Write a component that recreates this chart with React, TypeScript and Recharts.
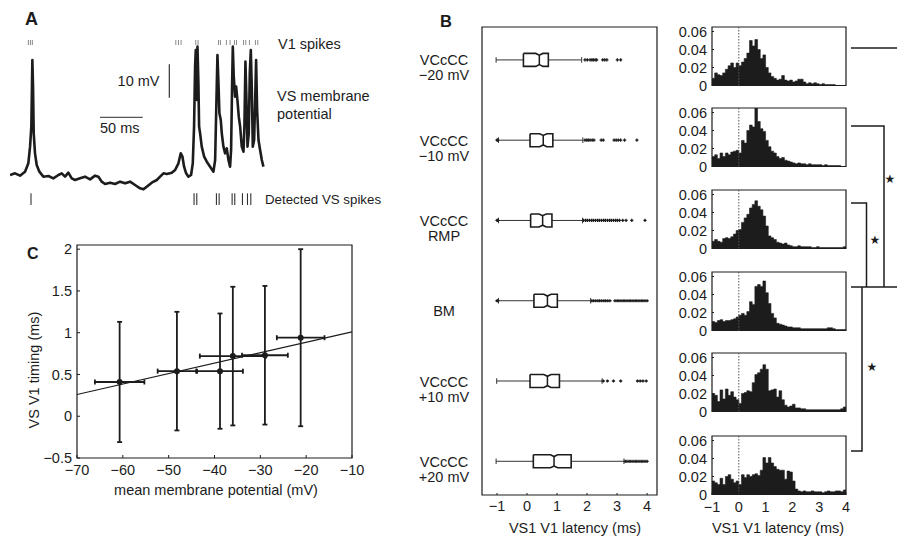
import React from 'react';
import {
  ComposedChart, Line, ScatterChart, Scatter, AreaChart, Area, XAxis, YAxis,
  ErrorBar, ReferenceLine, ReferenceArea,
} from 'recharts';

const FONT = '"Liberation Sans", Arial, Helvetica, sans-serif';
const INK = '#1c1c1c';
const TICK = { fontSize: 14.5, fill: INK };

// ---------- Panel A: VS membrane potential (ms, mV) ----------
const membraneTrace: [number, number][] = [
  [0, -50.4], [5.9, -49.9], [11.7, -50.6], [17.6, -49.4], [21.5, -46.9], [23.5, -41.9], [25.0, -35.9],
  [25.8, -22.9], [26.2, -15.9], [27.0, -23.9], [27.8, -37.9], [29.3, -43.9], [31.3, -47.4], [34.4, -49.4],
  [39.1, -50.9], [45.0, -50.7], [50.8, -51.4], [56.7, -50.4], [60.6, -49.9], [64.5, -50.9], [68.4, -49.7],
  [72.3, -51.4], [76.2, -51.9], [82.1, -51.4], [87.9, -50.9], [93.8, -51.7], [99.7, -50.6], [103.6, -50.9],
  [107.5, -52.4], [111.4, -53.1], [117.3, -52.7], [123.1, -53.1], [129.0, -52.4], [134.9, -52.9], [140.7, -52.4],
  [146.6, -53.4], [152.4, -54.4], [156.4, -54.7], [160.2, -53.9], [166.1, -52.7], [172.0, -51.9], [175.9, -50.9],
  [179.8, -49.9], [183.7, -50.1], [189.6, -49.7], [193.5, -48.9], [197.4, -46.9], [200.1, -43.9], [202.1, -44.9],
  [204.0, -47.9], [206.4, -49.9], [209.1, -50.9], [212.2, -50.4], [214.2, -46.9], [215.7, -35.9], [216.9, -17.9],
  [217.7, -12.9], [218.9, -27.9], [219.7, -11.9], [220.8, -22.9], [221.6, -35.9], [222.8, -37.9], [224.7, -41.9],
  [227.5, -44.9], [230.6, -46.4], [234.5, -47.9], [238.4, -49.4], [240.4, -45.9], [241.5, -32.9], [243.1, -14.4],
  [244.3, -22.9], [245.4, -31.9], [247.0, -33.9], [248.2, -37.9], [250.1, -41.9], [252.1, -43.9], [254.0, -42.4],
  [256.0, -45.9], [257.9, -47.9], [259.1, -42.9], [260.3, -22.9], [261.1, -11.9], [262.2, -20.9], [263.8, -26.9],
  [265.0, -23.9], [266.5, -27.9], [268.1, -32.9], [269.7, -35.9], [271.6, -41.9], [273.6, -43.4], [274.7, -35.9],
  [275.9, -16.4], [277.1, -27.9], [278.3, -41.9], [279.8, -37.9], [281.0, -19.9], [282.2, -12.9], [283.4, -24.9],
  [284.5, -41.9], [286.1, -39.9], [287.3, -27.9], [288.4, -15.9], [289.6, -30.9], [291.2, -39.9], [293.1, -42.9],
  [295.1, -45.9], [297.0, -47.9],
];
const v1SpikeTimes = [21.5, 23.9, 26.2, 194.3, 197.4, 200.5, 217.7, 220.4, 244.3, 246.6, 253.6, 257.9, 263.0, 265.4, 273.6, 276.3, 280.6, 287.6, 290.4];
const vsSpikeTimes = [24.6, 215.7, 218.9, 241.9, 245.1, 260.3, 263.4, 272.4, 278.3, 282.2];
const v1RasterMv = [-9.9, -11.4];
const vsRasterMv = [-55.9, -59.4];
const scaleBarMs = { t: [105.5, 155.5], v: -33.1 };
const scaleBarMv = { t: 186.7, v: [-17.2, -27.2] };

// ---------- Panel B: latency box plots (ms) ----------
const conditionLabels = [['VCcCC', '−20 mV'], ['VCcCC', '−10 mV'], ['VCcCC', 'RMP'], ['BM'], ['VCcCC', '+10 mV'], ['VCcCC', '+20 mV']];
const whiskerLow = [-1.03, -0.95, -0.95, -0.95, -1.01, -1.03];
const quart1 = [-0.12, 0.10, 0.12, 0.23, 0.10, 0.21];
const medians = [0.41, 0.54, 0.52, 0.68, 0.68, 0.90];
const quart3 = [0.71, 0.86, 0.83, 1.01, 1.08, 1.47];
const whiskerHigh = [1.82, 1.86, 1.85, 2.12, 2.50, 3.23];
const outliers = [
  [1.93, 2.01, 2.10, 2.16, 2.21, 2.27, 2.32, 2.52, 2.59, 2.66, 3.01, 3.12],
  [-1.0, -0.98, 1.93, 1.99, 2.04, 2.10, 2.17, 2.23, 2.47, 2.54, 2.90, 2.97, 3.04, 3.12, 3.25, 3.66],
  [-1.0, -0.98, 1.88, 1.95, 2.01, 2.08, 2.15, 2.21, 2.28, 2.35, 2.41, 2.48, 2.55, 2.61, 2.68, 2.75, 2.81, 2.88, 2.95, 3.01, 3.08, 3.19, 3.30, 3.49, 3.93],
  [-1.0, -0.98, 2.16, 2.22, 2.29, 2.36, 2.42, 2.49, 2.56, 2.62, 2.69, 2.76, 2.93, 3.0, 3.06, 3.13, 3.2, 3.26, 3.33, 3.4, 3.46, 3.53, 3.6, 3.66, 3.73, 3.8, 3.86, 3.93, 4.0],
  [2.54, 2.68, 2.88, 3.12, 3.68, 3.77, 3.86, 3.97],
  [3.27, 3.33, 3.4, 3.46, 3.53, 3.6, 3.66, 3.73, 3.8, 3.86, 3.93, 4.0],
];
const latencyTicks = [-1, 0, 1, 2, 3, 4];

// ---------- Panel B: latency histograms (probability per 0.1 ms bin, from -1 ms) ----------
const histBinStart = -1;
const histBinWidth = 0.1;
const histMinus20 = [
  0.008, 0.014, 0.012, 0.011, 0.014, 0.018, 0.022, 0.025, 0.020, 0.025,
  0.022, 0.026, 0.030, 0.036, 0.050, 0.044, 0.051, 0.040, 0.030, 0.034,
  0.020, 0.014, 0.010, 0.008, 0.006, 0.007, 0.011, 0.006, 0.005, 0.006,
  0.004, 0.005, 0.007, 0.007, 0.004, 0.002, 0.003, 0.002, 0.003, 0.002,
  0.001, 0.002, 0.001, 0.001, 0.001, 0.001, 0, 0, 0, 0,
];
const histMinus10 = [
  0.011, 0.013, 0.009, 0.015, 0.011, 0.015, 0.013, 0.016, 0.017, 0.018,
  0.015, 0.029, 0.026, 0.040, 0.046, 0.044, 0.065, 0.050, 0.042, 0.039,
  0.029, 0.022, 0.017, 0.015, 0.011, 0.009, 0.010, 0.007, 0.006, 0.005,
  0.004, 0.003, 0.004, 0.003, 0.003, 0.002, 0.003, 0.002, 0.002, 0.002,
  0.002, 0.001, 0.002, 0.001, 0.001, 0.001, 0.001, 0.001, 0, 0,
];
const histRmp = [
  0.008, 0.010, 0.008, 0.007, 0.011, 0.012, 0.011, 0.013, 0.016, 0.020,
  0.021, 0.029, 0.034, 0.038, 0.045, 0.049, 0.053, 0.047, 0.043, 0.036,
  0.025, 0.014, 0.012, 0.010, 0.007, 0.006, 0.005, 0.006, 0.004, 0.003,
  0.002, 0.002, 0.003, 0.002, 0.002, 0.002, 0.002, 0.001, 0.001, 0.002,
  0.001, 0.001, 0.001, 0.001, 0.001, 0.001, 0.001, 0.001, 0.001, 0.002,
];
const histBm = [
  0.010, 0.009, 0.011, 0.012, 0.010, 0.011, 0.011, 0.012, 0.013, 0.015,
  0.017, 0.019, 0.017, 0.021, 0.032, 0.029, 0.049, 0.051, 0.049, 0.055,
  0.042, 0.030, 0.019, 0.014, 0.008, 0.007, 0.006, 0.005, 0.004, 0.004,
  0.003, 0.003, 0.003, 0.002, 0.002, 0.002, 0.002, 0.002, 0.002, 0.002,
  0.002, 0.002, 0.002, 0.003, 0.003, 0.002, 0.001, 0.001, 0.001, 0.001,
];
const histPlus10 = [
  0.020, 0.018, 0.011, 0.024, 0.014, 0.025, 0.018, 0.022, 0.016, 0.013,
  0.009, 0.020, 0.021, 0.023, 0.022, 0.032, 0.041, 0.043, 0.047, 0.052,
  0.047, 0.023, 0.024, 0.025, 0.016, 0.023, 0.013, 0.007, 0.005, 0.006,
  0.008, 0.004, 0.004, 0.003, 0.003, 0.002, 0.002, 0.002, 0.002, 0.002,
  0.002, 0.002, 0.002, 0.002, 0.002, 0.002, 0.002, 0.002, 0.003, 0.005,
];
const histPlus20 = [
  0.015, 0.013, 0.011, 0.018, 0.011, 0.020, 0.022, 0.017, 0.013, 0.015,
  0.011, 0.022, 0.019, 0.022, 0.020, 0.022, 0.023, 0.021, 0.027, 0.041,
  0.035, 0.041, 0.035, 0.031, 0.028, 0.027, 0.027, 0.017, 0.026, 0.025,
  0.015, 0.006, 0.004, 0.003, 0.004, 0.003, 0.003, 0.004, 0.003, 0.003,
  0.003, 0.002, 0.003, 0.004, 0.003, 0.003, 0.004, 0.004, 0.003, 0.005,
];
const histograms = [histMinus20, histMinus10, histRmp, histBm, histPlus10, histPlus20];
const histTops = [27.3, 107.8, 189.5, 271.5, 353.3, 435.5];
const probTicks = [0, 0.02, 0.04, 0.06];

// ---------- Panel C: timing vs mean membrane potential ----------
const cMembrane = [-60.7, -48.2, -38.8, -36.0, -29.0, -21.2];
const cMembraneErr = [5.4, 4.2, 5.0, 7.2, 5.0, 5.2];
const cTiming = [0.41, 0.54, 0.54, 0.72, 0.73, 0.94];
const cTimingErr = [0.72, 0.71, 0.69, 0.83, 0.83, 1.06];
const cFitX = [-70, -10];
const cFitY = [0.26, 1.01];
const cTicksX = [-70, -60, -50, -40, -30, -20, -10];
const cTicksY = [-0.5, 0, 0.5, 1, 1.5, 2];

const fmt = (v: number) => (v < 0 ? '−' + Math.abs(v) : String(v));
const NoShape = () => <g />;

function TracePanel() {
  const data = membraneTrace.map(([t, v]) => ({ t, v }));
  return (
    <ComposedChart width={256} height={175} data={data} margin={{ top: 0, right: 0, bottom: 0, left: 0 }}>
      <XAxis type="number" dataKey="t" domain={[0, 300]} allowDataOverflow hide />
      <YAxis type="number" domain={[-60.9, -8.4]} allowDataOverflow hide />
      {v1SpikeTimes.map((t, i) => (
        <ReferenceLine key={'v1' + i} segment={[{ x: t, y: v1RasterMv[0] }, { x: t, y: v1RasterMv[1] }]} stroke="#8a8a8a" strokeWidth={1} />
      ))}
      {vsSpikeTimes.map((t, i) => (
        <ReferenceLine key={'vs' + i} segment={[{ x: t, y: vsRasterMv[0] }, { x: t, y: vsRasterMv[1] }]} stroke="#333" strokeWidth={1.1} />
      ))}
      <ReferenceLine segment={[{ x: scaleBarMs.t[0], y: scaleBarMs.v }, { x: scaleBarMs.t[1], y: scaleBarMs.v }]} stroke="#555" strokeWidth={1.2} />
      <ReferenceLine segment={[{ x: scaleBarMv.t, y: scaleBarMv.v[0] }, { x: scaleBarMv.t, y: scaleBarMv.v[1] }]} stroke="#333" strokeWidth={1.2} />
      <Line dataKey="v" type="linear" dot={false} activeDot={false} stroke={INK} strokeWidth={2.6} strokeLinejoin="round" isAnimationActive={false} />
    </ComposedChart>
  );
}

function ConditionTick(props: any) {
  const { x, y, payload } = props;
  const lines = conditionLabels[payload.value - 1] || [];
  const cx = x - 38;
  const first = lines.length > 1 ? y + 5.5 : y + 15;
  return (
    <text x={cx} y={first} textAnchor="middle" fontSize={14.5} fill={INK}>
      {lines.map((s, i) => (
        <tspan key={i} x={cx} dy={i === 0 ? 0 : 15}>{s}</tspan>
      ))}
    </text>
  );
}

const PlusMark = (p: any) => (
  <path d={`M${p.cx - 1.6},${p.cy}H${p.cx + 1.6}M${p.cx},${p.cy - 1.6}V${p.cy + 1.6}`} stroke={INK} strokeWidth={1.3} />
);

function BoxPanel() {
  const half = 0.081;
  const notch = 0.12;
  const depth = 0.022;
  const cap = 0.035;
  const outlierPts = outliers.flatMap((vals, i) => vals.map((x) => ({ x, y: i + 1 })));
  return (
    <ScatterChart width={270} height={530} margin={{ top: 17, right: 13, bottom: 15, left: 0 }}>
      <XAxis type="number" dataKey="x" domain={[-1.5, 4.33]} allowDataOverflow ticks={latencyTicks} tickFormatter={fmt}
        height={30} axisLine={false} tickSize={-2} tickMargin={8} tickLine={{ stroke: INK }} tick={TICK} />
      <YAxis type="number" dataKey="y" domain={[0.59, 6.42]} allowDataOverflow reversed ticks={[1, 2, 3, 4, 5, 6]}
        width={82} axisLine={false} tickLine={false} tickSize={0} tickMargin={0} tick={ConditionTick} />
      <ReferenceArea x1={-1.5} x2={4.33} y1={0.59} y2={6.42} fill="none" fillOpacity={0} stroke={INK} strokeWidth={1.2} />
      {medians.map((m, i) => {
        const r = i + 1;
        return (
          <React.Fragment key={i}>
            <ReferenceLine segment={[{ x: whiskerLow[i], y: r }, { x: quart1[i], y: r }]} stroke="#333" strokeWidth={1} />
            <ReferenceLine segment={[{ x: quart3[i], y: r }, { x: whiskerHigh[i], y: r }]} stroke="#333" strokeWidth={1} />
            <ReferenceLine segment={[{ x: whiskerLow[i], y: r - cap }, { x: whiskerLow[i], y: r + cap }]} stroke="#333" strokeWidth={1} />
            <ReferenceLine segment={[{ x: whiskerHigh[i], y: r - cap }, { x: whiskerHigh[i], y: r + cap }]} stroke="#333" strokeWidth={1} />
            <ReferenceLine segment={[{ x: m, y: r - half + depth }, { x: m, y: r + half - depth }]} stroke={INK} strokeWidth={1.5} />
          </React.Fragment>
        );
      })}
      {medians.map((m, i) => {
        const r = i + 1;
        const top = r - half;
        const bot = r + half;
        const outline = [
          { x: quart1[i], y: top }, { x: m - notch, y: top }, { x: m, y: top + depth }, { x: m + notch, y: top }, { x: quart3[i], y: top },
          { x: quart3[i], y: bot }, { x: m + notch, y: bot }, { x: m, y: bot - depth }, { x: m - notch, y: bot }, { x: quart1[i], y: bot },
          { x: quart1[i], y: top },
        ];
        return (
          <Scatter key={'box' + i} data={outline} shape={NoShape} line={{ stroke: INK, strokeWidth: 1.6 }} lineType="joint" isAnimationActive={false} />
        );
      })}
      <Scatter data={outlierPts} shape={PlusMark} isAnimationActive={false} />
    </ScatterChart>
  );
}

function HistPanel({ values, bottom }: { values: number[]; bottom: boolean }) {
  const data = values.map((p, i) => ({ t: +(histBinStart + i * histBinWidth).toFixed(2), p }));
  data.push({ t: +(histBinStart + values.length * histBinWidth).toFixed(2), p: values[values.length - 1] });
  return (
    <AreaChart width={200} height={5 + 58.5 + 25} data={data} margin={{ top: 5, right: 14, bottom: 0, left: 0 }}>
      <XAxis type="number" dataKey="t" domain={[-1, 4]} allowDataOverflow ticks={latencyTicks} tickFormatter={fmt}
        height={25} axisLine={false} tickSize={-2} tickMargin={9} tickLine={bottom ? { stroke: INK } : false}
        tick={bottom ? TICK : false} />
      <YAxis type="number" domain={[0, 0.065]} allowDataOverflow ticks={probTicks}
        tickFormatter={(v: number) => (v === 0 ? '0' : v.toFixed(2))}
        width={52} axisLine={false} tickSize={-2} tickMargin={7} tickLine={{ stroke: INK }} tick={TICK} interval={0} />
      <ReferenceLine x={0} stroke="#555" strokeWidth={1} strokeDasharray="1.5 1.5" />
      <Area type="stepAfter" dataKey="p" stroke={INK} strokeWidth={0.6} fill={INK} fillOpacity={1} dot={false} activeDot={false} isAnimationActive={false} />
      <ReferenceArea x1={-1} x2={4} y1={0} y2={0.065} fill="none" fillOpacity={0} stroke={INK} strokeWidth={1.2} />
    </AreaChart>
  );
}

function TimingPanel() {
  const points = cMembrane.map((x, i) => ({ x, y: cTiming[i], ex: cMembraneErr[i], ey: cTimingErr[i] }));
  return (
    <ScatterChart width={370} height={290} margin={{ top: 15, right: 18, bottom: 32, left: 30 }}>
      <XAxis type="number" dataKey="x" domain={[-70, -10]} allowDataOverflow ticks={cTicksX} tickFormatter={fmt}
        height={30} axisLine={false} tickSize={-3} tickMargin={9.5} tickLine={{ stroke: INK }} tick={TICK} interval={0} />
      <YAxis type="number" dataKey="y" domain={[-0.5, 2.05]} allowDataOverflow ticks={cTicksY} tickFormatter={fmt}
        width={47} axisLine={false} tickSize={-3} tickMargin={8} tickLine={{ stroke: INK }} tick={TICK} interval={0} />
      <ReferenceArea x1={-70} x2={-10} y1={-0.5} y2={2.05} fill="none" fillOpacity={0} stroke={INK} strokeWidth={1.2} />
      <ReferenceLine segment={[{ x: cFitX[0], y: cFitY[0] }, { x: cFitX[1], y: cFitY[1] }]} stroke={INK} strokeWidth={1.2} />
      <Scatter data={points} isAnimationActive={false} shape={(p: any) => <circle cx={p.cx} cy={p.cy} r={3} fill={INK} />}>
        <ErrorBar dataKey="ey" direction="y" width={2.5} stroke={INK} strokeWidth={1.8} />
        <ErrorBar dataKey="ex" direction="x" width={2.5} stroke={INK} strokeWidth={1.8} />
      </Scatter>
    </ScatterChart>
  );
}

export default function App() {
  const line = { stroke: INK, strokeWidth: 1.5, fill: 'none' };
  return (
    <div style={{ position: 'absolute', left: 0, top: 0, width: 897, height: 537, background: '#fff', fontFamily: FONT, overflow: 'hidden' }}>
      <div style={{ position: 'absolute', left: 10, top: 35 }}><TracePanel /></div>
      <div style={{ position: 'absolute', left: 400, top: 10 }}><BoxPanel /></div>
      {histograms.map((vals, i) => (
        <div key={i} style={{ position: 'absolute', left: 660, top: histTops[i] - 5 }}>
          <HistPanel values={vals} bottom={i === histograms.length - 1} />
        </div>
      ))}
      <div style={{ position: 'absolute', left: 0, top: 230 }}><TimingPanel /></div>

      <svg width={897} height={537} style={{ position: 'absolute', left: 0, top: 0, pointerEvents: 'none' }} fontFamily={FONT} fill={INK}>
        <text x={25} y={25} fontSize={18} fontWeight="bold">A</text>
        <text x={440} y={27} fontSize={16.5} fontWeight="bold">B</text>
        <text x={27} y={259} fontSize={16} fontWeight="bold">C</text>

        <text x={278} y={48.5} fontSize={14.5}>V1 spikes</text>
        <text x={277} y={101} fontSize={14.5}>VS membrane</text>
        <text x={277} y={119} fontSize={14.5}>potential</text>
        <text x={159.5} y={86} fontSize={14.5} textAnchor="end">10 mV</text>
        <text x={100} y={133} fontSize={14.5}>50 ms</text>
        <text x={265} y={203.5} fontSize={13.3}>Detected VS spikes</text>

        <text transform="translate(38.5,370) rotate(-90)" fontSize={14.5} textAnchor="middle">VS V1 timing (ms)</text>
        <text x={216} y={494.5} fontSize={14.5} textAnchor="middle">mean membrane potential (mV)</text>
        <text x={575} y={533} fontSize={14.5} textAnchor="middle">VS1 V1 latency (ms)</text>
        <text x={778} y={533} fontSize={14.5} textAnchor="middle">VS1 V1 latency (ms)</text>

        <polyline points="851,48 897,48" {...line} />
        <polyline points="851,126 884,126 884,287" {...line} />
        <polyline points="851,203 866.5,203 866.5,287" {...line} />
        <polyline points="851,287 897,287" {...line} />
        <polyline points="851,451 862,451 862,287" {...line} />
        <text x={890} y={183} fontSize={12} textAnchor="middle" fontFamily="DejaVu Sans">★</text>
        <text x={875} y={243.5} fontSize={12} textAnchor="middle" fontFamily="DejaVu Sans">★</text>
        <text x={872} y={371} fontSize={12} textAnchor="middle" fontFamily="DejaVu Sans">★</text>
      </svg>
    </div>
  );
}
